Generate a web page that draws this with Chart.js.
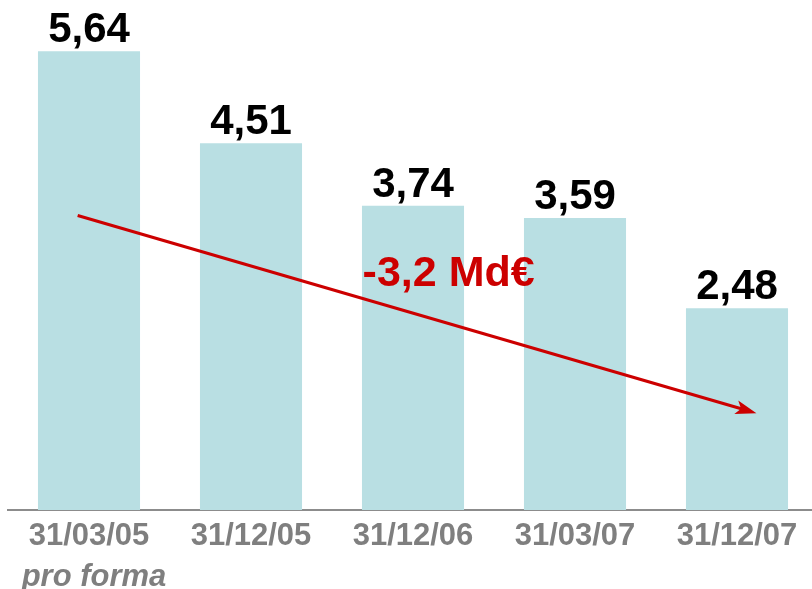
<!DOCTYPE html>
<html>
<head>
<meta charset="utf-8">
<script src="https://cdn.jsdelivr.net/npm/chart.js@4.4.1/dist/chart.umd.min.js"></script>
<style>
  html, body { margin: 0; padding: 0; background: #fff; overflow: hidden; }
  canvas { display: block; }
</style>
</head>
<body>
<canvas id="c" width="820" height="589"></canvas>
<script>
// Dates of each position and the optional second line under them
const categories = ["31/03/05", "31/12/05", "31/12/06", "31/03/07", "31/12/07"];
const subLabels = ["pro forma", "", "", "", ""];
// Amounts in Md€
const values = [5.64, 4.51, 3.74, 3.59, 2.48];
const valueLabels = ["5,64", "4,51", "3,74", "3,59", "2,48"];
// Trend arrow and its caption, in axis units (category index, Md€)
const trendFrom = { x: -0.07, y: 3.62 };
const trendTo = { x: 4.12, y: 1.19 };
const trendText = "-3,2 Md€";
const trendTextAt = { x: 2.22, y: 2.76 };

const FONT = "'Liberation Sans', Arial, Helvetica, sans-serif";
const RED = "#cc0000";

const overlay = {
  id: "overlay",
  afterDraw(chart) {
    const ctx = chart.ctx;
    const xs = chart.scales.x, ys = chart.scales.y;
    const meta = chart.getDatasetMeta(0);

    // value above each bar
    ctx.save();
    ctx.fillStyle = "#000";
    ctx.font = "bold 42px " + FONT;
    ctx.textAlign = "center";
    ctx.textBaseline = "alphabetic";
    meta.data.forEach((bar, i) => {
      ctx.fillText(valueLabels[i], bar.x, bar.y - 9);
    });

    // category labels under the axis
    ctx.fillStyle = "#7f7f7f";
    categories.forEach((c, i) => {
      const x = xs.getPixelForValue(i);
      ctx.font = "bold 31px " + FONT;
      ctx.fillText(c, x, chart.chartArea.bottom + 35);
      if (subLabels[i]) {
        ctx.font = "italic bold 31px " + FONT;
        ctx.fillText(subLabels[i], x + 5, chart.chartArea.bottom + 76);
      }
    });

    // trend arrow
    const x1 = xs.getPixelForValue(trendFrom.x), y1 = ys.getPixelForValue(trendFrom.y);
    const x2 = xs.getPixelForValue(trendTo.x), y2 = ys.getPixelForValue(trendTo.y);
    const ang = Math.atan2(y2 - y1, x2 - x1);
    const headLen = 18, headHalf = 7;
    const bx = x2 - headLen * Math.cos(ang), by = y2 - headLen * Math.sin(ang);
    ctx.strokeStyle = RED;
    ctx.lineWidth = 3;
    ctx.beginPath();
    ctx.moveTo(x1, y1);
    ctx.lineTo(bx + 4 * Math.cos(ang), by + 4 * Math.sin(ang));
    ctx.stroke();
    ctx.fillStyle = RED;
    ctx.beginPath();
    ctx.moveTo(x2, y2);
    ctx.lineTo(bx - 3 * Math.cos(ang) + headHalf * Math.sin(ang), by - 3 * Math.sin(ang) - headHalf * Math.cos(ang));
    ctx.lineTo(bx + 2 * Math.cos(ang), by + 2 * Math.sin(ang));
    ctx.lineTo(bx - 3 * Math.cos(ang) - headHalf * Math.sin(ang), by - 3 * Math.sin(ang) + headHalf * Math.cos(ang));
    ctx.closePath();
    ctx.fill();

    // caption of the trend
    ctx.font = "bold 43px " + FONT;
    ctx.fillText(trendText, xs.getPixelForValue(trendTextAt.x), ys.getPixelForValue(trendTextAt.y));
    ctx.restore();
  }
};

new Chart(document.getElementById("c"), {
  type: "bar",
  data: {
    labels: categories,
    datasets: [{
      data: values,
      backgroundColor: "#b9dfe3",
      borderWidth: 0,
      categoryPercentage: 1,
      barPercentage: 0.63
    }]
  },
  options: {
    responsive: false,
    animation: false,
    devicePixelRatio: 1,
    layout: { padding: { left: 8, right: 2, top: 0, bottom: 71 } },
    plugins: { legend: { display: false }, tooltip: { enabled: false } },
    scales: {
      x: {
        z: 1,
        grid: { display: false },
        border: { display: true, color: "#8c8c8c", width: 2 },
        ticks: { display: false }
      },
      y: {
        display: false,
        min: 0,
        max: 6.27
      }
    }
  },
  plugins: [overlay]
});
</script>
</body>
</html>
